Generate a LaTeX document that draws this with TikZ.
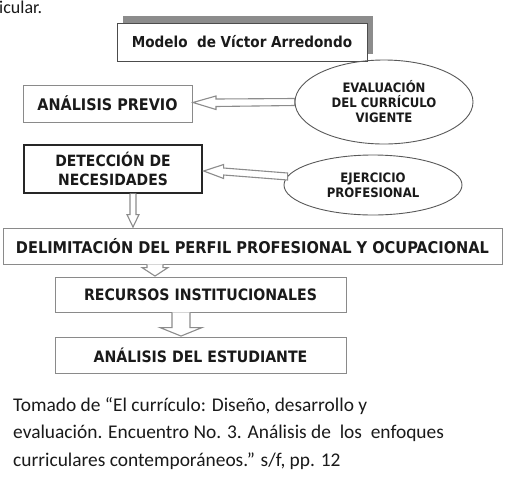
\documentclass[tikz,border=0pt]{standalone}
\usepackage{fontspec}
\setmainfont{Carlito}
\newfontfamily\condfont{DejaVu Sans Condensed}
\usetikzlibrary{shapes.geometric,calc}
\definecolor{txt}{HTML}{1A1A1A}
\definecolor{edge}{HTML}{8A8A8A}
\definecolor{shadowc}{HTML}{8C8C8C}
\tikzset{
  plainbox/.style={draw=edge,line width=0.9pt,fill=white,inner sep=0pt,align=center,text=txt,font=\condfont\bfseries\fontsize{15.7}{17}\selectfont},
  strongbox/.style={plainbox,draw=black!85,line width=1.3pt},
  ovalbox/.style={ellipse,draw=black!65,line width=0.9pt,inner sep=0pt,align=center,text=txt,font=\condfont\bfseries\fontsize{13}{15}\selectfont},
  blockarrow/.style={draw=gray!90,line width=1.1pt,fill=white,line join=miter},
  caption/.style={anchor=north west,align=left,inner sep=0pt,text=txt,font=\fontsize{19.4}{27.5}\selectfont}
}
\begin{document}
\begin{tikzpicture}[x=1pt,y=-1pt]
\useasboundingbox (0,0) rectangle (524,480);
\fill[white] (0,0) rectangle (524,480);
% cut text at the top
\node[anchor=base west,inner sep=0pt,text=txt,font=\fontsize{18}{20}\selectfont] (cut) at (-1,13.5) {icular.};
% title with shadow
\fill[shadowc] (123,16) rectangle (373,54);
\node[plainbox,draw=black!70,font=\condfont\bfseries\fontsize{15.1}{17}\selectfont,minimum width=250pt,minimum height=38pt] (title) at (242,42) {Modelo\ \ de Víctor Arredondo};
% boxes
\node[plainbox,font=\condfont\bfseries\fontsize{16}{18}\selectfont,minimum width=169pt,minimum height=37pt] (previo) at (107.5,103.5) {ANÁLISIS PREVIO};
\node[strongbox,font=\condfont\bfseries\fontsize{15.5}{19}\selectfont,minimum width=178pt,minimum height=48pt] (det) at (113,169) {DETECCIÓN DE\\NECESIDADES};
\node[plainbox,font=\condfont\bfseries\fontsize{16.2}{17}\selectfont,minimum width=499pt,minimum height=36pt] (delim) at (252.5,246) {DELIMITACIÓN DEL PERFIL PROFESIONAL Y OCUPACIONAL};
\node[plainbox,minimum width=291pt,minimum height=35pt] (recursos) at (200.5,294.5) {RECURSOS INSTITUCIONALES};
\node[plainbox,minimum width=291pt,minimum height=36pt] (estud) at (200.5,355) {ANÁLISIS DEL ESTUDIANTE};
% ellipses
\node[ovalbox,minimum width=178pt,minimum height=84pt] (ev) at (384,102) {EVALUACIÓN\\DEL CURRÍCULO\\VIGENTE};
\node[ovalbox,minimum width=178pt,minimum height=60pt] (ej) at (373,185) {EJERCICIO\\PROFESIONAL};
% arrow: evaluación -> análisis previo
\draw[blockarrow] ($(previo.east)+(0.5,-1)$) -- ++(23,-6.5) -- ++(0,3) -- ($(ev.west)+(0,-3.5)$)
   -- ($(ev.west)+(0,3.5)$) -- ($(previo.east)+(23.5,3)$) -- ++(0,3) -- cycle;
% arrow: ejercicio -> detección
\draw[blockarrow] ($(det.east)+(1,2)$) -- ++(20,-6.5) -- ++(0,3.5) -- ($(ej.west)+(4,-12)$)
   -- ($(ej.west)+(4,-5)$) -- ($(det.east)+(21,6)$) -- ++(0,3.5) -- cycle;
% arrow: detección -> delimitación
\coordinate (a3) at ($(det.south)+(20,0)$);
\coordinate (a3t) at (a3 |- delim.north);
\draw[blockarrow] ($(a3)+(-3,0)$) -- ($(a3t)+(-3,-13)$) -- ++(-3,0) -- ($(a3t)+(0,-0.5)$)
   -- ($(a3t)+(6,-13)$) -- ++(-3,0) -- ($(a3)+(3,0)$);
% arrow: delimitación -> recursos
\coordinate (a4) at ($(delim.south)+(-97.5,0)$);
\coordinate (a4t) at (a4 |- recursos.north);
\draw[blockarrow] ($(a4)+(-8,0)$) -- ($(a4t)+(-8,-9)$) -- ++(-5,0) -- ($(a4t)+(0,-0.5)$)
   -- ($(a4t)+(13,-9)$) -- ++(-5,0) -- ($(a4)+(8,0)$);
% arrow: recursos -> estudiante
\coordinate (a5) at ($(recursos.south)+(-19.5,0)$);
\coordinate (a5t) at (a5 |- estud.north);
\draw[blockarrow] ($(a5)+(-9,0)$) -- ($(a5t)+(-9,-9)$) -- ++(-12,0) -- ($(a5t)+(0,-0.5)$)
   -- ($(a5t)+(21,-9)$) -- ++(-12,0) -- ($(a5)+(9,0)$);
% caption
\node[caption] (cap) at (13,397) {Tomado de “El currículo: Diseño, desarrollo y\\evaluación. Encuentro No. 3. Análisis de\ \ los\ \ enfoques\\curriculares contemporáneos.” s/f, pp. 12};
\end{tikzpicture}
\end{document}
